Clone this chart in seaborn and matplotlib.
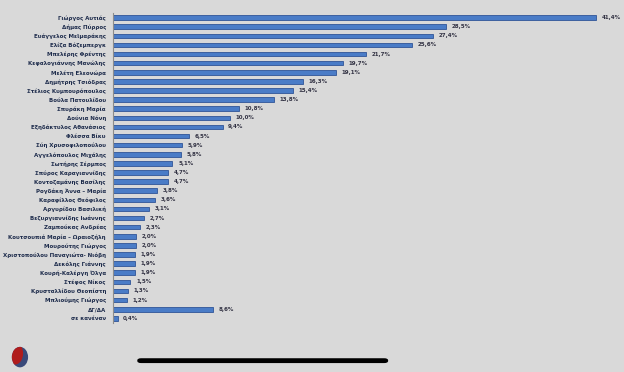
import matplotlib
matplotlib.use("Agg")
import numpy as np
import pandas as pd
import seaborn as sns
import matplotlib.pyplot as plt
from matplotlib.patches import Ellipse, FancyBboxPatch

names = [
    "Γιώργος Αυτιάς", "Δήμας Πύρρος", "Ευάγγελος Μεϊμαράκης", "Ελίζα Βόζεμπεργκ",
    "Μπελέρης Φρέντης", "Κεφαλογιάννης Μανώλης", "Μελέτη Ελεονώρα",
    "Δημήτρης Τσιόδρας", "Στέλιος Κυμπουρόπουλος", "Βούλα Πατουλίδου",
    "Σπυράκη Μαρία", "Δούνια Νόνη", "Εξηδάκτυλος Αθανάσιος", "Φλέσσα Βίκυ",
    "Σύη Χρυσοφιλοπούλου", "Αγγελόπουλος Μιχάλης", "Σωτήρης Σέρμπος",
    "Σπύρος Καραγιαννίδης", "Κοντοζαμάνης Βασίλης", "Ρογδάκη Άννα – Μαρία",
    "Καραφίλλος Θεόφιλος", "Αργυρίδου Βασιλική", "Βεζυργιαννίδης Ιωάννης",
    "Ζαμπούκας Ανδρέας", "Κουτσουπιά Μαρία – Ωραιοζήλη", "Μουρούτης Γιώργος",
    "Χριστοπούλου Παναγιώτα- Νιόβη", "Δεκόλης Γιάννης", "Κουρή-Καλέργη Όλγα",
    "Στέφος Νίκος", "Κρυσταλλίδου Θεοπίστη", "Μπλιούμης Γιώργος", "ΔΓ/ΔΑ",
    "σε κανέναν",
]
values = [41.4, 28.5, 27.4, 25.6, 21.7, 19.7, 19.1, 16.3, 15.4, 13.8, 10.8, 10.0,
          9.4, 6.5, 5.9, 5.8, 5.1, 4.7, 4.7, 3.8, 3.6, 3.1, 2.7, 2.3, 2.0, 2.0,
          1.9, 1.9, 1.9, 1.5, 1.3, 1.2, 8.6, 0.4]

df = pd.DataFrame({"name": names, "value": values})

sns.set_theme(style="white")
plt.rcParams["font.family"] = ["DejaVu Sans"]

bg = "#d9d9d9"
fig = plt.figure(figsize=(6.24, 3.72), dpi=100, facecolor=bg)
ax = fig.add_axes([0.181, 0.132, 0.81, 0.833], facecolor=bg)

sns.barplot(data=df, x="value", y="name", orient="h", color="#4a7cc7",
            width=0.5, edgecolor="#2f5597", linewidth=0.6, saturation=1, ax=ax)

labels = [f"{v:.1f}%".replace(".", ",") for v in values]
ax.bar_label(ax.containers[0], labels=labels, padding=4, fontsize=4,
             fontweight="bold", color="#333344")

ax.set_xlim(0, 43.3)
ax.set_ylim(len(names) - 0.5, -0.5)
ax.set_xlabel("")
ax.set_ylabel("")
ax.set_xticks([])
for s in ["top", "right", "bottom"]:
    ax.spines[s].set_visible(False)
ax.spines["left"].set_color("#8c8c8c")
ax.spines["left"].set_linewidth(0.8)
ax.tick_params(axis="y", length=0, labelsize=4, pad=5, labelcolor="#1f2d4d")
for t in ax.get_yticklabels():
    t.set_fontweight("bold")
ax.set_yticks(np.arange(len(names) + 1) - 0.5, minor=True)
ax.tick_params(axis="y", which="minor", length=2, color="#8c8c8c", width=0.6)

# screenshot decorations: logo and home indicator
logo = Ellipse((0.032, 0.04), 0.026, 0.055, transform=fig.transFigure,
               facecolor="#3a4a7a", edgecolor="none")
fig.patches.append(logo)
red = Ellipse((0.024, 0.05), 0.026, 0.06, transform=fig.transFigure,
              facecolor="#b01c1c", edgecolor="none")
red.set_clip_path(logo)
fig.patches.append(red)
fig.patches.append(FancyBboxPatch((0.22, 0.024), 0.402, 0.013,
                                  boxstyle="round,pad=0,rounding_size=0.006",
                                  transform=fig.transFigure, facecolor="black",
                                  edgecolor="none"))

fig.savefig("out.png", dpi=100, facecolor=bg)
